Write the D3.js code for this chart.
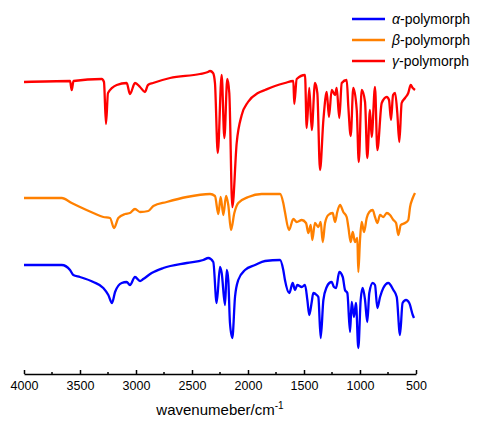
<!DOCTYPE html>
<html lang="en">
<head>
    <script src='https://d3js.org/d3.v7.min.js'></script>
    <style>
      body { margin: 0; background: #fff; }
      text { font-family: Arial, 'Liberation Sans', sans-serif; }
    </style>
</head>
<body>
<script>
// IR spectra, offset intensities (arbitrary units)
var seriesNames = ['α', 'β', 'γ'];
var colors = ['#0000ff', '#ff8000', '#ff0000'];
var xTicks = [4000, 3500, 3000, 2500, 2000, 1500, 1000, 500];

var gammaWn = [4000,3589,3574,3558,3306,3286,3268,3250,3172,3083,3054,3009,2964,2920,2893,2848,2696,2429,2357,2339,2312,2295,2270,2235,2211,2185,2167,2140,2101,2056,2000,1911,1848,1759,1670,1595,1587,1565,1491,1476,1453,1431,1402,1381,1357,1327,1297,1277,1253,1223,1208,1185,1163,1119,1104,1083,1060,1029,1011,985,955,935,911,896,866,845,806,761,741,723,705,687,667,649,628,598,569,547,529,509];
var gammaI = [292,293,284,293,295,292,250,281,289,291,280,291,287,282,289,291,296,300,302,303,301,291,221,299,236,295,281,167,231,259,272,281,284,288,291,293,270,295,299,246,286,244,291,281,204,254,282,257,284,279,286,256,291,294,267,238,286,264,212,284,272,216,264,237,287,224,271,277,274,254,279,281,261,232,271,276,281,289,286,284];

var betaWn = [4000,3663,3574,3500,3381,3292,3232,3196,3158,3098,3054,3009,2964,2890,2845,2726,2547,2339,2295,2265,2244,2220,2196,2176,2152,2122,2087,1997,1878,1714,1685,1670,1634,1595,1565,1520,1482,1461,1440,1426,1402,1372,1351,1333,1312,1283,1244,1223,1203,1178,1149,1119,1104,1083,1065,1045,1024,1015,1000,985,964,940,917,887,866,845,821,792,761,732,702,678,658,636,598,569,553,529,509];
var betaI = [176,176,171,167,161,157,156,146,156,160,161,165,162,163,168,172,177,180,178,160,177,159,178,169,144,161,171,177,180,180,171,162,144,155,152,154,151,141,149,134,151,147,152,132,151,159,161,152,162,169,162,157,147,132,142,132,136,102,134,152,142,156,162,164,157,151,159,157,161,159,154,151,139,149,151,154,167,176,181];

var alphaWn = [4000,3663,3589,3560,3500,3381,3292,3247,3214,3187,3128,3083,3054,3009,2964,2935,2860,2756,2547,2399,2354,2310,2280,2250,2235,2205,2190,2176,2161,2140,2116,2087,2027,1937,1848,1714,1685,1670,1631,1601,1580,1560,1520,1491,1470,1453,1431,1417,1387,1372,1351,1327,1297,1274,1253,1232,1214,1185,1154,1134,1113,1089,1074,1054,1036,1015,994,976,955,935,917,887,866,845,821,792,747,702,672,643,620,589,560,529,518];
var alphaI = [109,109,104,99,97,92,86,79,71,82,91,92,89,97,93,95,101,106,111,114,116,112,71,107,101,69,104,94,51,36,77,94,104,109,113,114,104,94,81,91,84,89,87,89,74,59,72,81,79,77,36,74,87,91,92,87,86,102,97,84,81,42,72,57,71,26,74,86,74,52,81,91,89,66,77,86,91,84,77,39,71,74,71,59,56];

const width = 486, height = 422;
const svg = d3.select("body").append("svg")
  .attr("width", width)
  .attr("height", height);

const x = d3.scaleLinear().domain([4000, 500]).range([24, 416]);
const y = d3.scaleLinear().domain([0, 300]).range([374, 74]);

const line = d3.line()
  .curve(d3.curveMonotoneX)
  .x(function(d) { return x(d[0]); })
  .y(function(d) { return y(d[1]); });

var series = [
  d3.zip(alphaWn, alphaI),
  d3.zip(betaWn, betaI),
  d3.zip(gammaWn, gammaI)
];

// draw spectra (gamma on top)
svg.append("g").selectAll("path")
  .data(series)
  .enter()
  .append("path")
  .attr("fill", "none")
  .attr("stroke", function(d, i) { return colors[i]; })
  .attr("stroke-width", 2.3)
  .attr("stroke-linejoin", "round")
  .attr("d", line);

// x axis, ticks pointing inward
var axis = svg.append("g")
  .attr("transform", "translate(0," + 374 + ")")
  .call(d3.axisBottom(x).tickValues(xTicks).tickSize(-4).tickSizeOuter(0).tickPadding(7).tickFormat(d3.format("d")));
axis.select(".domain").attr("stroke-width", 1.5);
axis.selectAll(".tick line").attr("stroke-width", 1.5);
axis.selectAll(".tick text").attr("font-size", 12.5).attr("font-family", "Arial, 'Liberation Sans', sans-serif").attr("fill", "#000");

var minor = d3.range(3750, 500, -500);
svg.append("g").selectAll("line")
  .data(minor)
  .enter()
  .append("line")
  .attr("x1", function(d) { return x(d); })
  .attr("x2", function(d) { return x(d); })
  .attr("y1", 374)
  .attr("y2", 372)
  .attr("stroke", "#000")
  .attr("stroke-width", 1.5);

// axis title
var title = svg.append("text")
  .attr("x", 220)
  .attr("y", 415)
  .attr("text-anchor", "middle")
  .attr("font-size", 15);
title.append("tspan").text("wavenumeber/cm");
title.append("tspan").attr("font-size", 10).attr("dy", -6).text("-1");

// legend
var legend = svg.append("g").selectAll("g")
  .data(seriesNames)
  .enter()
  .append("g")
  .attr("transform", function(d, i) { return "translate(352," + (19 + i * 21) + ")"; });
legend.append("line")
  .attr("x1", 0).attr("x2", 33)
  .attr("stroke", function(d, i) { return colors[i]; })
  .attr("stroke-width", 2.5);
var lt = legend.append("text")
  .attr("x", 40)
  .attr("dy", "0.35em")
  .attr("font-size", 14);
lt.append("tspan").attr("font-style", "italic").text(function(d) { return d; });
lt.append("tspan").text("-polymorph");
</script>
</body>
</html>
